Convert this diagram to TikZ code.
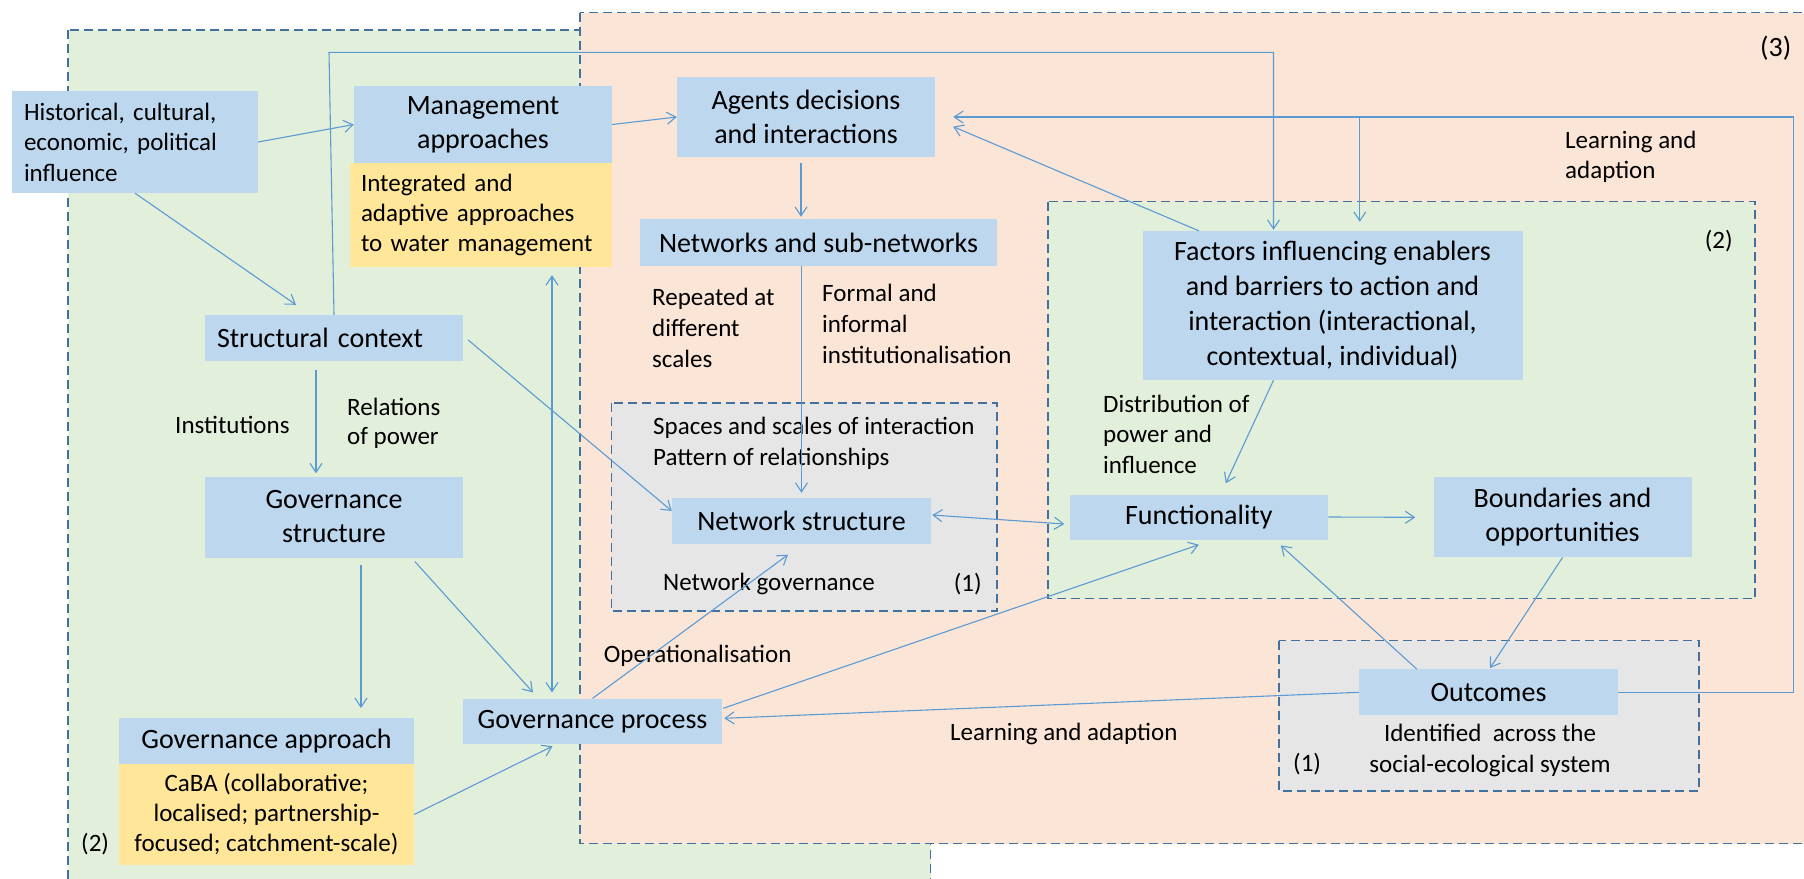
\documentclass[tikz,border=0pt]{standalone}
\usepackage{fontspec}
\setmainfont{Carlito}
\usetikzlibrary{arrows.meta,calc}
\definecolor{lgreen}{HTML}{E2EFDA}
\definecolor{lorange}{HTML}{FBE5D6}
\definecolor{lgrey}{HTML}{E7E6E6}
\definecolor{nblue}{HTML}{BDD7EE}
\definecolor{nyellow}{HTML}{FFE699}
\definecolor{bdr}{HTML}{41719C}
\definecolor{arc}{HTML}{5B9BD5}
\tikzset{
 region/.style={draw=bdr, line width=1.4pt, dash pattern=on 9pt off 5pt},
 bx/.style={fill=nblue, inner sep=0pt, align=center, font=\fontsize{28}{34}\selectfont},
 ybx/.style={fill=nyellow, inner sep=0pt, font=\fontsize{25}{30}\selectfont},
 lbl/.style={inner sep=0pt, font=\fontsize{25}{30.5}\selectfont, align=left},
 arr/.style={draw=arc, line width=1.1pt, -{Straight Barb[length=9pt,width=12pt]}},
 darr/.style={draw=arc, line width=1.1pt, {Straight Barb[length=9pt,width=12pt]}-{Straight Barb[length=9pt,width=12pt]}},
}
\begin{document}
\begin{tikzpicture}[x=1pt,y=-1pt]
\useasboundingbox (0,0) rectangle (1804,878);
\clip (0,0) rectangle (1804,878);
\fill[white] (0,0) rectangle (1804,878);
% regions
\draw[region, fill=lgreen] (68,30) rectangle (930.7,895);
\draw[region, fill=lorange] (580,12.7) rectangle (1830,843.5);
\draw[region, fill=lgreen] (1047.8,201.7) rectangle (1754.8,598.6);
\draw[region, fill=lgrey] (611.6,402.8) rectangle (997,611);
\draw[region, fill=lgrey] (1279,640.7) rectangle (1699,791);
% boxes
\node[bx, minimum width=246pt, minimum height=102pt, text width=222pt, align=left, font=\fontsize{25}{30.5}\selectfont] (hist) at (135,142) {Historical, cultural,\\economic, political\\influence};
\node[bx, minimum width=258pt, minimum height=77pt] (mgmt) at (483,124.5) {Management\\approaches};
\node[ybx, minimum width=262pt, minimum height=104pt, text width=240pt, align=left] (mgmty) at (481,215) {Integrated and\\adaptive approaches\\to water management};
\node[bx, minimum width=258pt, minimum height=80pt] (agents) at (806,117) {Agents decisions\\and interactions};
\node[bx, minimum width=357pt, minimum height=47pt] (networks) at (818.5,242.5) {Networks and sub-networks};
\node[bx, minimum width=258pt, minimum height=46pt, text width=234pt, align=left] (sc) at (334,338) {Structural context};
\node[bx, minimum width=258pt, minimum height=81pt] (gs) at (334,517) {Governance\\structure};
\node[bx, minimum width=295pt, minimum height=45.5pt] (ga) at (266.5,741) {Governance approach};
\node[ybx, minimum width=295pt, minimum height=101pt, align=center] (gay) at (266.5,814.5) {CaBA (collaborative;\\localised; partnership-\\focused; catchment-scale)};
\node[bx, minimum width=259pt, minimum height=45.4pt] (gp) at (592.5,721.3) {Governance process};
\node[bx, minimum width=259pt, minimum height=46pt] (ns) at (801.5,521) {Network structure};
\node[bx, minimum width=258.5pt, minimum height=45pt] (func) at (1198.8,517) {Functionality};
\node[bx, minimum width=380pt, minimum height=149pt, font=\fontsize{28}{35}\selectfont] (factors) at (1332.5,305.5) {Factors influencing enablers\\and barriers to action and\\interaction (interactional,\\contextual, individual)};
\node[bx, minimum width=258pt, minimum height=80pt] (bound) at (1562.5,517.3) {Boundaries and\\opportunities};
\node[bx, minimum width=259pt, minimum height=46pt] (out) at (1488.5,692.3) {Outcomes};
% labels
\node[lbl, anchor=north west, font=\fontsize{25}{31}\selectfont] (rep) at (652,283.3) {\strut Repeated at\\different\\scales};
\node[lbl, anchor=north west, font=\fontsize{25}{31}\selectfont] (formal) at (822,280) {\strut Formal and\\informal\\institutionalisation};
\node[lbl, anchor=base west] (inst) at (175,433) {Institutions};
\node[lbl, anchor=north west, font=\fontsize{25}{29}\selectfont] (rel) at (347,395.2) {\strut Relations\\of power};
\node[lbl, anchor=north west, font=\fontsize{25}{31}\selectfont] (spaces) at (653,412.3) {\strut Spaces and scales of interaction\\Pattern of relationships};
\node[lbl, anchor=base west] (netgov) at (663,590.5) {Network governance};
\node[lbl, anchor=base west] (one1) at (953.6,591) {(1)};
\node[lbl, anchor=base west] (oper) at (603.7,662.6) {Operationalisation};
\node[lbl, anchor=base west] (learn1) at (950,740) {Learning and adaption};
\node[lbl, anchor=north west] (distr) at (1103,390.6) {\strut Distribution of\\power and\\influence};
\node[lbl, anchor=north west] (learn2) at (1565,126.6) {\strut Learning and\\adaption};
\node[lbl, anchor=north, align=center] (ident) at (1490,720.3) {\strut Identified~ across the\\social-ecological system};
\node[lbl, anchor=base west] (one2) at (1293,771) {(1)};
\node[lbl, anchor=base west] (two1) at (1704.7,248) {(2)};
\node[lbl, anchor=base west, font=\fontsize{28}{34}\selectfont] (three) at (1760,56) {(3)};
\node[lbl, anchor=base west] (two2) at (81,851) {(2)};
% connectors
\draw[arr] (hist.east) -- (mgmt.west);
\draw[arr] (hist.south) -- ($(sc.north)+(-38,-10)$);
\draw[arr] (mgmt.east) -- (agents.west);
\draw[arr] ($(agents.south)+(-5,6)$) -- ($(agents.south |- networks.north)+(-5,-2)$);
\draw[arr] (ns.north |- networks.south) -- ($(ns.north)+(0,-5)$);
\draw[arr] ($(sc.east)+(5,2)$) -- ($(ns.west)+(0,-10)$);
\draw[arr] ($(sc.south)+(-18,9)$) -- ($(sc.south |- gs.north)+(-18,-3)$);
\coordinate (tl) at (329,52.3);
\draw[arr] (sc.north) -- (tl) -| ($(factors.north)+(-59,-1)$);
\draw[arr] ($(gs.south)+(27,7)$) -- ($(gs.south |- ga.north)+(27,-10)$);
\draw[arr] ($(gs.south)+(81,4)$) -- ($(gp.north)+(-59.5,-6)$);
\draw[arr] (gay.east) -- ($(gp.south)+(-40,2)$);
\draw[darr] ($(mgmty.south)+(71,8)$) -- ($(gp.north)+(-40.5,-6)$);
\draw[arr] (gp.north) -- ($(ns.south)+(-13.5,10.5)$);
\draw[arr] ($(gp.east)+(1,-13)$) -- ($(func.south)+(0,5)$);
\draw[darr] ($(ns.east)+(1,-6)$) -- ($(func.west)+(-5,7)$);
\draw[arr] (func.east) -- ($(bound.west)+(-18,0)$);
\draw[arr] ($(factors.south)+(-59,0)$) -- ($(func.north)+(27,-11)$);
\draw[arr] ($(factors.north west)+(56.5,0)$) -- ($(agents.east)+(18,9.7)$);
\draw[arr] (bound.south) -- ($(out.north)+(1.5,-1)$);
\draw[arr] ($(out.north west)+(58,0)$) -- ($(func.south east)+(-47.5,5.7)$);
\draw[arr] (out.west) -- ($(gp.east)+(2,-3)$);
\coordinate (rc) at (1793.6,692.3);
\draw[arr] (out.east) -- (rc) |- ($(agents.east)+(18,0)$);
\coordinate (br) at (1359.8,117);
\draw[arr] (br) -- ($(factors.north)+(27.3,-9)$);
\end{tikzpicture}
\end{document}
